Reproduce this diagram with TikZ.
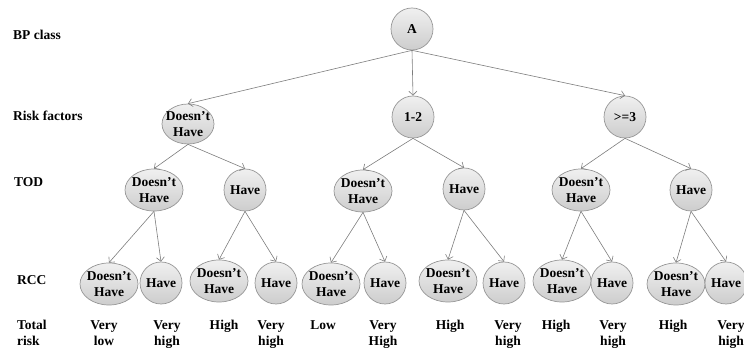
\documentclass[tikz,border=0pt]{standalone}
\usepackage{fontspec}
\setmainfont{Liberation Serif}
\usetikzlibrary{shapes.geometric,arrows.meta}
\definecolor{edgec}{RGB}{125,125,125}
\definecolor{bordc}{RGB}{150,150,150}
\definecolor{filltop}{RGB}{240,240,240}
\definecolor{fillbot}{RGB}{205,205,205}
\begin{document}
\begin{tikzpicture}[x=1pt,y=-1pt,
  every node/.style={font=\fontsize{13.5}{16}\selectfont\bfseries},
  circ/.style={circle, draw=bordc, line width=0.7pt, top color=filltop, bottom color=fillbot, minimum size=42pt, inner sep=0pt},
  ell/.style={ellipse, draw=bordc, line width=0.7pt, top color=filltop, bottom color=fillbot, minimum width=58pt, minimum height=42pt, inner sep=-5pt, align=center},
  conn/.style={draw=edgec, line width=0.6pt, -{Straight Barb[length=4pt,width=8pt]}},
  lab/.style={anchor=west, inner sep=0pt, align=left},
  risk/.style={anchor=north, inner sep=0pt, align=center}]
\useasboundingbox (0,0) rectangle (744,352);
% row labels
\node[lab] (l1) at (13,35) {BP class};
\node[lab] (l2) at (13,116) {Risk factors};
\node[lab] (l3) at (14,182) {TOD};
\node[lab] (l4) at (17,280) {RCC};
\node[lab, anchor=north west] (l5) at (17,320) {Total\\risk};
% level 0
\node[circ] (A) at (412,29) {A};
% level 1
\node[ell, minimum width=52pt, minimum height=40pt] (R0) at (188,124) {Doesn’t\\Have};
\node[circ] (R1) at (413,117) {1-2};
\node[circ] (R2) at (625,117) {>=3};
% level 2
\node[ell] (T0) at (154,190) {Doesn’t\\Have};
\node[circ] (T1) at (245,190) {Have};
\node[ell] (T2) at (363,191) {Doesn’t\\Have};
\node[circ] (T3) at (464,189) {Have};
\node[ell] (T4) at (581,190) {Doesn’t\\Have};
\node[circ] (T5) at (691,190) {Have};
% level 3
\node[ell] (C0) at (109,284) {Doesn’t\\Have};
\node[circ] (C1) at (161,283) {Have};
\node[ell] (C2) at (219,281) {Doesn’t\\Have};
\node[circ] (C3) at (276,283) {Have};
\node[ell] (C4) at (331,284) {Doesn’t\\Have};
\node[circ] (C5) at (385,283) {Have};
\node[ell] (C6) at (448,281) {Doesn’t\\Have};
\node[circ] (C7) at (504,283) {Have};
\node[ell] (C8) at (562,281) {Doesn’t\\Have};
\node[circ] (C9) at (612,283) {Have};
\node[ell] (C10) at (676,284) {Doesn’t\\Have};
\node[circ] (C11) at (726,283) {Have};
% total risk
\node[risk] (K0) at (104,320) {Very\\low};
\node[risk] (K1) at (167,320) {Very\\high};
\node[risk] (K2) at (224,320) {High};
\node[risk] (K3) at (271,320) {Very\\high};
\node[risk] (K4) at (323,320) {Low};
\node[risk] (K5) at (383,320) {Very\\High};
\node[risk] (K6) at (450,320) {High};
\node[risk] (K7) at (508,320) {Very\\high};
\node[risk] (K8) at (556,320) {High};
\node[risk] (K9) at (613,320) {Very\\high};
\node[risk] (K10) at (673,320) {High};
\node[risk] (K11) at (731,320) {Very\\high};
% connectors
\foreach \p/\c in {A/R0, A/R1, A/R2,
  R0/T0, R0/T1, R1/T2, R1/T3, R2/T4, R2/T5,
  T0/C0, T0/C1, T1/C2, T1/C3, T2/C4, T2/C5, T3/C6, T3/C7, T4/C8, T4/C9, T5/C10, T5/C11}
  \draw[conn] (\p.south) -- (\c.north);
\end{tikzpicture}
\end{document}
